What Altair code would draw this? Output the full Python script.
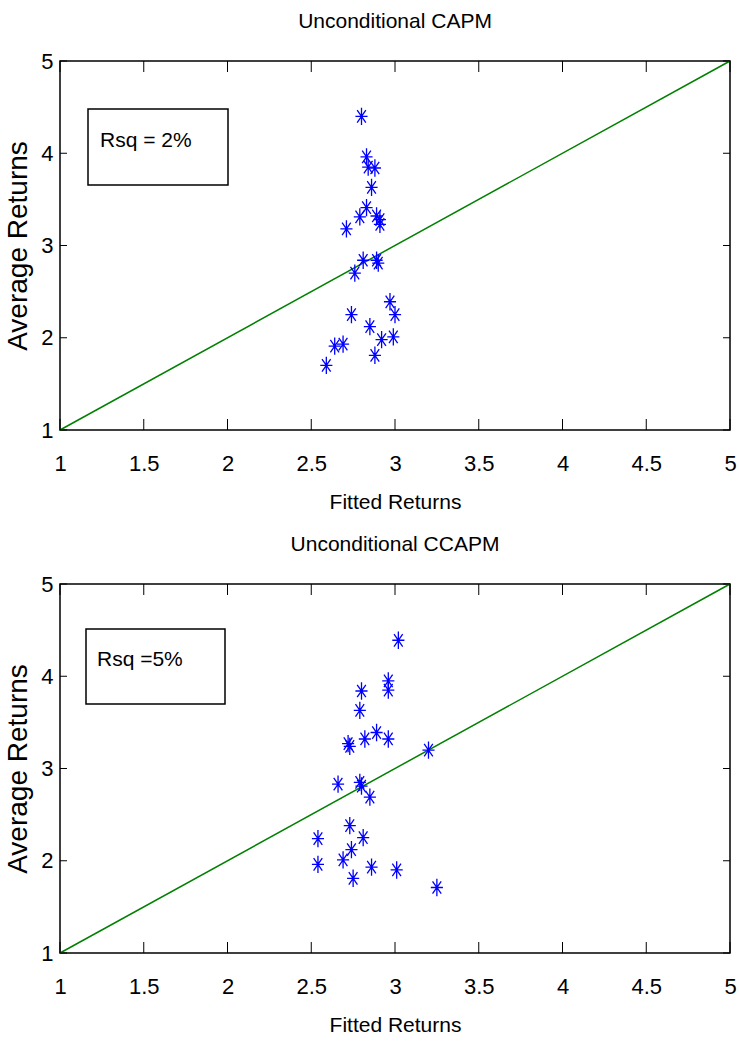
import altair as alt
import pandas as pd

# ---- data ----
capm_fitted = [2.80, 2.83, 2.84, 2.88, 2.86, 2.83, 2.79, 2.89, 2.91, 2.91, 2.71, 2.81, 2.76,
               2.89, 2.90, 2.97, 3.00, 2.74, 2.85, 2.99, 2.92, 2.69, 2.64, 2.88, 2.59]
capm_avg = [4.40, 3.96, 3.85, 3.84, 3.63, 3.41, 3.31, 3.32, 3.28, 3.23, 3.18, 2.84, 2.70,
            2.84, 2.81, 2.39, 2.25, 2.25, 2.12, 2.01, 1.98, 1.93, 1.91, 1.81, 1.70]

ccapm_fitted = [3.02, 2.96, 2.96, 2.80, 2.79, 2.72, 2.73, 2.82, 2.89, 2.96, 3.20, 2.66, 2.79,
                2.80, 2.85, 2.73, 2.54, 2.81, 2.74, 2.69, 2.54, 2.86, 3.01, 2.75, 3.25]
ccapm_avg = [4.39, 3.95, 3.85, 3.84, 3.63, 3.27, 3.24, 3.32, 3.39, 3.32, 3.20, 2.83, 2.85,
             2.81, 2.69, 2.38, 2.24, 2.25, 2.12, 2.01, 1.96, 1.93, 1.90, 1.81, 1.71]

x_ticks = [1, 1.5, 2, 2.5, 3, 3.5, 4, 4.5, 5]
y_ticks = [1, 2, 3, 4, 5]
diag = [1, 5]

titles = ["Unconditional CAPM", "Unconditional CCAPM"]
rsq_labels = ["Rsq = 2%", "Rsq =5%"]

W, H = 670, 369
FONT = "Liberation Sans, Arial, Helvetica"
STAR = "M0,-1L0,1M-0.7,0L0.7,0M-0.5,-0.72L0.5,0.72M-0.5,0.72L0.5,-0.72"


def panel(title, fx, fy, rsq, box, txt):
    xsc = alt.Scale(domain=[1, 5], nice=False, zero=False)
    ysc = alt.Scale(domain=[1, 5], nice=False, zero=False)
    xaxis = alt.Axis(values=x_ticks, format="~g", title="Fitted Returns", ticks=False,
                     domain=False, grid=False, labelFont=FONT, labelFontSize=22,
                     labelPadding=23, titleFont=FONT, titleFontSize=21,
                     titleFontWeight="normal", titlePadding=17, labelColor="black",
                     titleColor="black", labelFlush=False)
    yaxis = alt.Axis(values=y_ticks, format="~g", title="Average Returns", ticks=False,
                     domain=False, grid=False, labelFont=FONT, labelFontSize=22,
                     labelPadding=7, titleFont=FONT, titleFontSize=28,
                     titleFontWeight="normal", titlePadding=8, labelColor="black",
                     titleColor="black", labelFlush=False)

    diag_df = pd.DataFrame({"x": diag, "y": diag})
    pts = pd.DataFrame({"x": fx, "y": fy})
    xt = pd.DataFrame({"t": x_ticks})
    yt = pd.DataFrame({"t": y_ticks})
    lab = pd.DataFrame({"label": [rsq]})
    ttl = pd.DataFrame({"label": [title]})

    X = lambda f: alt.X(f, scale=xsc, axis=xaxis)
    Y = lambda f: alt.Y(f, scale=ysc, axis=yaxis)

    line = alt.Chart(diag_df).mark_line(color="#008000", strokeWidth=1.5).encode(
        x=X("x:Q"), y=Y("y:Q"))
    stars = alt.Chart(pts).mark_point(shape=STAR, size=300, filled=False, color="#0000ff",
                                      strokeWidth=1.3, opacity=1).encode(
        x=X("x:Q"), y=Y("y:Q"))
    tb = alt.Chart(xt).mark_rule(color="black", strokeWidth=1).encode(
        x=X("t:Q"), y=alt.value(H), y2=alt.value(H - 11))
    tt = alt.Chart(xt).mark_rule(color="black", strokeWidth=1).encode(
        x=X("t:Q"), y=alt.value(0), y2=alt.value(11))
    tl = alt.Chart(yt).mark_rule(color="black", strokeWidth=1).encode(
        y=Y("t:Q"), x=alt.value(0), x2=alt.value(7))
    tr = alt.Chart(yt).mark_rule(color="black", strokeWidth=1).encode(
        y=Y("t:Q"), x=alt.value(W), x2=alt.value(W - 7))
    rect = alt.Chart(lab).mark_rect(fill="white", stroke="black", strokeWidth=1.5).encode(
        x=alt.value(box[0]), x2=alt.value(box[1]), y=alt.value(box[2]), y2=alt.value(box[3]))
    text = alt.Chart(lab).mark_text(align="left", baseline="middle", font=FONT,
                                    fontSize=21, color="black").encode(
        x=alt.value(txt[0]), y=alt.value(txt[1]), text="label:N")
    head = alt.Chart(ttl).mark_text(align="center", baseline="alphabetic", font=FONT,
                                    fontSize=21, color="black").encode(
        x=alt.value(W / 2), y=alt.value(-33), text="label:N")

    return alt.layer(line, stars, tb, tt, tl, tr, rect, text, head).properties(
        width=W, height=H)


top = panel(titles[0], capm_fitted, capm_avg, rsq_labels[0], (28, 168, 48, 124), (40, 80))
bottom = panel(titles[1], ccapm_fitted, ccapm_avg, rsq_labels[1], (26, 165, 45, 120), (37, 76))

chart = alt.vconcat(top, bottom, spacing=20).properties(
    padding={"left": 4, "top": 10, "right": 0, "bottom": 0},
    background="white",
).configure_view(stroke="black", strokeWidth=1.5)

chart.save("out.html", embed_options={"renderer": "svg", "actions": False})
